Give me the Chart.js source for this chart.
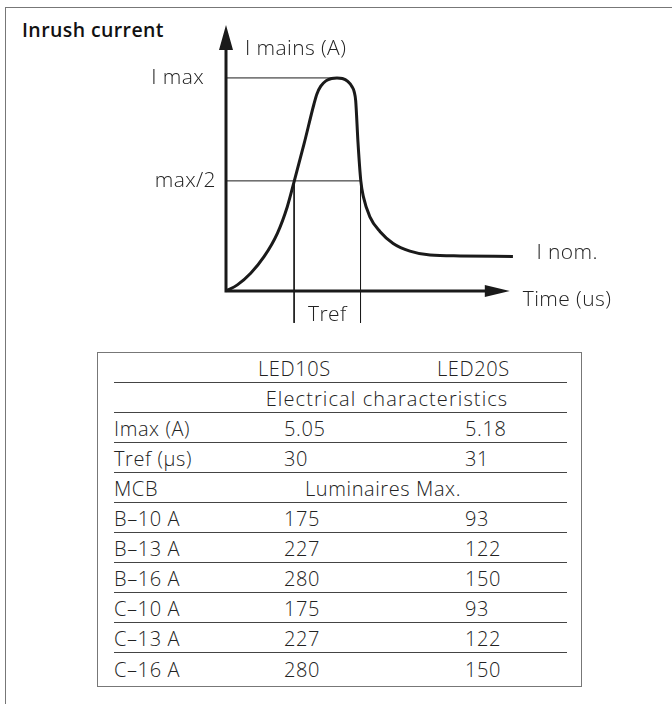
<!DOCTYPE html>
<html>
<head>
<meta charset="utf-8">
<script src="https://cdn.jsdelivr.net/npm/chart.js@4.4.1/dist/chart.umd.min.js"></script>
<style>
  html, body { margin: 0; padding: 0; background: #fff; }
  body { width: 672px; height: 704px; position: relative; overflow: hidden;
         font-family: "Open Sans", sans-serif; color: #222; }
  #frame { position: absolute; left: 5px; top: 7px; width: 700px; height: 720px;
           border-top: 1.5px solid #777; border-left: 1.5px solid #777; }
  #title { position: absolute; left: 22px; top: 16px; font-size: 19.5px; font-weight: 600;
           letter-spacing: 0.4px; color: #111; }
  #curve { position: absolute; left: 0; top: 0; }
  #table { position: absolute; left: 97px; top: 352px; width: 483px; height: 333px;
           border: 1.5px solid #777; border-top-width: 1px; }
  .row { position: absolute; left: 16px; width: 453px; height: 30px; box-sizing: border-box;
         border-bottom: 1px solid #444; font-size: 20px; font-weight: 300; letter-spacing: 0.6px; }
  .row.last { border-bottom: none; }
  .row span { position: absolute; bottom: 3px; line-height: 1; white-space: nowrap; }
  .row span.wide { letter-spacing: 1.1px; }
</style>
</head>
<body>
<div id="frame"></div>
<div id="title">Inrush current</div>
<canvas id="curve" width="672" height="340"></canvas>
<div id="table"></div>
<script>
// inrush curve (time in arbitrary us units, current in % of axis height)
const curveTime = [0, 4.0, 8.7, 13.4, 18.1, 21.6, 24.0, 27.5, 31.0, 32.0, 33.4, 35.2, 37.2, 39.1, 41.0, 42.9, 44.3, 45.2, 45.7, 46.5, 47.5, 48.4, 50.7, 54.3, 58.9, 64.8, 71.9, 82.5, 101.1];
const curveCurrent = [0, 2.3, 6.7, 12.9, 21.7, 31.7, 41.1, 55.3, 70.3, 74.0, 77.0, 79.0, 79.9, 80.1, 79.9, 78.8, 77.0, 74.8, 71.5, 56.0, 41.4, 35.5, 27.9, 22.3, 17.9, 15.0, 13.5, 13.2, 13.0];
const imaxLevel = 80.1;
const imaxTime = 39.1;
const halfLevel = 41.4;
const nomLevel = 13.0;
const trefStart = 24.0;
const trefEnd = 47.4;
const trefBottom = -12;
const axisEnd = 100;

// table
const models = ['LED10S', 'LED20S'];
const imaxValues = ['5.05', '5.18'];
const trefValues = ['30', '31'];
const mcbTypes = ['B–10 A', 'B–13 A', 'B–16 A', 'C–10 A', 'C–13 A', 'C–16 A'];
const led10sMax = [175, 227, 280, 175, 227, 280];
const led20sMax = [93, 122, 150, 93, 122, 150];

const rows = [];
rows.push([{ t: models[0], x: 144 }, { t: models[1], x: 323 }]);
rows.push([{ t: 'Electrical characteristics', c: 273, wide: true }]);
rows.push([{ t: 'Imax (A)', x: 0 }, { t: imaxValues[0], x: 170 }, { t: imaxValues[1], x: 351 }]);
rows.push([{ t: 'Tref (µs)', x: 0 }, { t: trefValues[0], x: 170 }, { t: trefValues[1], x: 351 }]);
rows.push([{ t: 'MCB', x: 0 }, { t: 'Luminaires Max.', c: 269 }]);
mcbTypes.forEach((m, i) => {
  rows.push([{ t: m, x: 0 }, { t: String(led10sMax[i]), x: 170 }, { t: String(led20sMax[i]), x: 351 }]);
});
const tbl = document.getElementById('table');
rows.forEach((cells, i) => {
  const r = document.createElement('div');
  r.className = 'row' + (i === rows.length - 1 ? ' last' : '');
  r.style.top = (i * 30) + 'px';
  cells.forEach(c => {
    const s = document.createElement('span');
    s.textContent = c.t;
    if (c.wide) s.className = 'wide';
    if (c.c !== undefined) { s.style.left = c.c + 'px'; s.style.transform = 'translateX(-50%)'; }
    else s.style.left = c.x + 'px';
    r.appendChild(s);
  });
  tbl.appendChild(r);
});

const ink = '#1a1a1a';
const labelFont = '300 21px "Open Sans", sans-serif';

const axesPlugin = {
  id: 'axes',
  afterDatasetsDraw(chart) {
    const { ctx, scales: { x, y } } = chart;
    const x0 = x.getPixelForValue(0), y0 = y.getPixelForValue(0);
    const xe = x.getPixelForValue(axisEnd), ye = y.getPixelForValue(100);
    ctx.save();
    ctx.strokeStyle = ink; ctx.fillStyle = ink; ctx.lineWidth = 3;
    ctx.beginPath();
    ctx.moveTo(x0, y0); ctx.lineTo(xe - 20, y0);
    ctx.moveTo(x0, y0 + 1.5); ctx.lineTo(x0, ye + 20);
    ctx.stroke();
    ctx.beginPath();
    ctx.moveTo(xe, y0); ctx.lineTo(xe - 25, y0 - 6); ctx.lineTo(xe - 25, y0 + 6); ctx.closePath();
    ctx.moveTo(x0, ye); ctx.lineTo(x0 - 7, ye + 25); ctx.lineTo(x0 + 7, ye + 25); ctx.closePath();
    ctx.fill();

    ctx.font = labelFont;
    ctx.letterSpacing = '0.4px';
    ctx.fillStyle = '#222';
    ctx.textBaseline = 'middle';
    ctx.textAlign = 'left';
    ctx.fillText('I mains (A)', x0 + 19, ye + 24);
    ctx.fillText('I nom.', x.getPixelForValue(109.4), y.getPixelForValue(nomLevel) - 3);
    ctx.fillText('Time (us)', xe + 13, y0 + 9);
    ctx.textAlign = 'right';
    ctx.fillText('I max', x0 - 22, y.getPixelForValue(imaxLevel));
    ctx.fillText('max/2', x0 - 10, y.getPixelForValue(halfLevel));
    ctx.textAlign = 'center';
    ctx.fillText('Tref', x.getPixelForValue((trefStart + trefEnd) / 2), y0 + 24);
    ctx.restore();
  }
};

const thin = { borderColor: ink, borderWidth: 1, pointRadius: 0, clip: false, tension: 0 };

new Chart(document.getElementById('curve'), {
  type: 'line',
  data: {
    datasets: [
      { data: curveTime.map((t, i) => ({ x: t, y: curveCurrent[i] })),
        borderColor: ink, borderWidth: 3, pointRadius: 0, cubicInterpolationMode: 'monotone', clip: false },
      { ...thin, data: [{ x: 0, y: imaxLevel }, { x: imaxTime, y: imaxLevel }] },
      { ...thin, data: [{ x: 0, y: halfLevel }, { x: trefEnd, y: halfLevel }] },
      { ...thin, data: [{ x: trefStart, y: halfLevel }, { x: trefStart, y: trefBottom }] },
      { ...thin, data: [{ x: trefEnd, y: halfLevel }, { x: trefEnd, y: trefBottom }] }
    ]
  },
  options: {
    responsive: false,
    animation: false,
    devicePixelRatio: 1,
    layout: { padding: { left: 226, right: 148, top: 25, bottom: 49 } },
    plugins: { legend: { display: false }, tooltip: { enabled: false } },
    scales: {
      x: { type: 'linear', min: 0, max: 105, display: false },
      y: { min: 0, max: 100, display: false }
    }
  },
  plugins: [axesPlugin]
});
</script>
</body>
</html>
